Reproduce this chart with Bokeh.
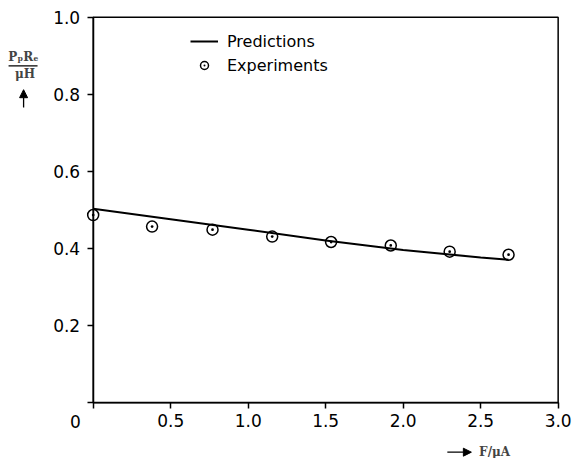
from bokeh.plotting import figure
from bokeh.models import (Range1d, FixedTicker, Label, Arrow, NormalHead, Legend, LegendItem,
                          BoxAnnotation)
from bokeh.embed import file_html
from bokeh.resources import INLINE

# Data
pred_x = [0.0, 0.5, 1.0, 1.5, 2.0, 2.5, 2.68]
pred_y = [0.503, 0.476, 0.449, 0.421, 0.396, 0.377, 0.371]
exp_x = [0.0, 0.38, 0.77, 1.155, 1.535, 1.92, 2.30, 2.68]
exp_y = [0.487, 0.457, 0.449, 0.431, 0.417, 0.408, 0.392, 0.384]
x_ticks = [0.0, 0.5, 1.0, 1.5, 2.0, 2.5, 3.0]
x_tick_labels = ["", "0.5", "1.0", "1.5", "2.0", "2.5", "3.0"]
y_ticks = [0.0, 0.2, 0.4, 0.6, 0.8, 1.0]
y_tick_labels = ["", "0.2", "0.4", "0.6", "0.8", "1.0"]

# frame covers the whole canvas; the data box [0,3]x[0,1] sits inside it
p = figure(width=573, height=458, output_backend="svg", toolbar_location=None,
           x_range=Range1d(-0.598, 3.099), y_range=Range1d(-0.1444, 1.0433))
p.min_border = 0
p.grid.visible = False
p.outline_line_color = None
p.background_fill_color = "white"
p.border_fill_color = "white"

p.xaxis.fixed_location = 0
p.yaxis.fixed_location = 0
p.xaxis.bounds = (0, 3.0)
p.yaxis.bounds = (0, 1.0)
for ax, ticks, labels in ((p.xaxis[0], x_ticks, x_tick_labels), (p.yaxis[0], y_ticks, y_tick_labels)):
    ax.ticker = FixedTicker(ticks=ticks)
    ax.major_label_overrides = {t: l for t, l in zip(ticks, labels)}
    ax.minor_tick_line_color = None
    ax.major_tick_out = 6
    ax.major_tick_in = 0
    ax.major_tick_line_width = 1.5
    ax.axis_line_width = 1.5
    ax.major_label_text_font = "DejaVu Sans"
    ax.major_label_text_font_size = "17px"
    ax.major_label_text_color = "black"
p.xaxis.major_label_standoff = 5
p.yaxis.major_label_standoff = 7

p.add_layout(BoxAnnotation(left=0, right=3.0, bottom=0, top=1.0, fill_alpha=0,
                           line_color="black", line_width=1.5, line_alpha=1))

r_line = p.line(pred_x, pred_y, line_color="black", line_width=2)
r_pts = p.scatter(exp_x, exp_y, marker="circle_dot", size=11, line_color="black",
                  line_width=1.5, fill_color=None)

legend = Legend(items=[LegendItem(label="Predictions", renderers=[r_line]),
                       LegendItem(label="Experiments", renderers=[r_pts])],
                location=(190, 383), padding=0, spacing=4, glyph_width=28, glyph_height=20,
                label_height=20, label_standoff=9, border_line_color=None,
                background_fill_alpha=0, label_text_font="DejaVu Sans",
                label_text_font_size="16px", label_text_color="black")
p.add_layout(legend)

# origin label
p.add_layout(Label(x=-0.114, y=-0.0485, text="0", text_align="center", text_baseline="middle",
                   text_font="DejaVu Sans", text_font_size="17px", text_color="black"))

# y axis label (fraction with arrow)
serif = "DejaVu Serif"
p.add_layout(Label(x=-0.45, y=0.898, text="PₚRₑ", text_align="center", text_baseline="middle",
                   text_font=serif, text_font_style="bold", text_font_size="12px"))
p.add_layout(Arrow(x_start=-0.546, y_start=0.874, x_end=-0.359, y_end=0.874, end=None,
                   line_width=1.3, line_color="black"))
p.add_layout(Label(x=-0.44, y=0.852, text="μH", text_align="center", text_baseline="middle",
                   text_font=serif, text_font_style="bold", text_font_size="12px"))
p.add_layout(Arrow(x_start=-0.449, y_start=0.766, x_end=-0.449, y_end=0.812,
                   end=NormalHead(size=8, fill_color="black", line_color="black"),
                   line_width=1.3, line_color="black"))

# x axis label with arrow
p.add_layout(Arrow(x_start=2.285, y_start=-0.128, x_end=2.44, y_end=-0.128,
                   end=NormalHead(size=8, fill_color="black", line_color="black"),
                   line_width=1.3, line_color="black"))
p.add_layout(Label(x=2.49, y=-0.128, text="F/μA", text_align="left", text_baseline="middle",
                   text_font=serif, text_font_style="bold", text_font_size="12px"))

open("out.html", "w").write(file_html(p, INLINE))
